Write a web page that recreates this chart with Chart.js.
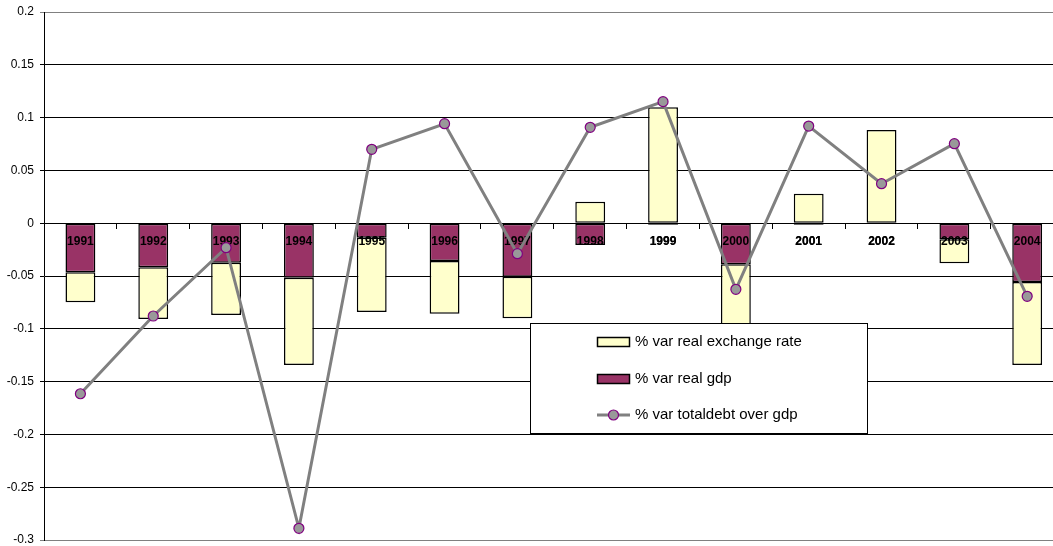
<!DOCTYPE html>
<html><head><meta charset="utf-8">
<script src="https://cdn.jsdelivr.net/npm/chart.js@4.4.1/dist/chart.umd.min.js"></script>
<style>html,body{margin:0;padding:0;background:#fff}#wrap{width:1053px;height:546px;position:relative}</style>
</head><body><div id="wrap"><canvas id="c"></canvas></div>
<script>
const years = ['1991','1992','1993','1994','1995','1996','1997','1998','1999','2000','2001','2002','2003','2004'];
const realExchangeRate = [-0.0284,-0.0489,-0.0495,-0.0827,-0.0704,-0.0499,-0.0394,0.0204,0.1098,-0.071,0.0279,0.0882,-0.0228,-0.0786];
const realGdp = [-0.0465,-0.0418,-0.0374,-0.0516,-0.0137,-0.0358,-0.0507,-0.0206,-0.0015,-0.0389,-0.0015,-0.0005,-0.0152,-0.0557];
const totalDebtOverGdp = [-0.1615,-0.0879,-0.0232,-0.2889,0.070,0.0942,-0.0289,0.0908,0.1151,-0.0626,0.092,0.0374,0.0753,-0.0692];
const yMin = -0.3, yMax = 0.2, yStep = 0.05;

Chart.defaults.font.family = "'Liberation Sans', Arial, sans-serif";
Chart.defaults.color = '#000';

// The original plot area runs a little past the right edge of the picture.
const extendPlotRight = {
  id: 'extendPlotRight',
  afterLayout(chart) {
    const x = chart.scales.x;
    x.right += 10.6;
    x.width += 10.6;
    x.configure();
  }
};

const labelsAboveBars = {
  id: 'labelsAboveBars',
  beforeDatasetDraw(chart, args) {
    if (args.meta.type === 'line' && typeof chart.scales.x.drawLabels === 'function') {
      chart.scales.x.drawLabels(chart.chartArea);
    }
  }
};

const boxLegend = {
  id: 'boxLegend',
  afterDraw(chart) {
    const ctx = chart.ctx;
    const ds = chart.data.datasets;
    ctx.save();
    ctx.fillStyle = '#fff';
    ctx.strokeStyle = '#000';
    ctx.lineWidth = 1;
    ctx.fillRect(530.5, 323.5, 337, 110);
    ctx.strokeRect(530.5, 323.5, 337, 110);
    const order = [2, 1, 0];
    const rows = [342, 379, 415];
    ctx.font = "15px 'Liberation Sans', Arial, sans-serif";
    ctx.textBaseline = 'middle';
    order.forEach((di, i) => {
      const d = ds[di];
      const y = rows[i];
      if (d.type === 'line') {
        ctx.strokeStyle = d.borderColor;
        ctx.lineWidth = d.borderWidth;
        ctx.beginPath(); ctx.moveTo(597, y); ctx.lineTo(630, y); ctx.stroke();
        ctx.beginPath(); ctx.arc(613.5, y, d.pointRadius, 0, Math.PI * 2);
        ctx.fillStyle = d.pointBackgroundColor; ctx.fill();
        ctx.lineWidth = d.pointBorderWidth; ctx.strokeStyle = d.pointBorderColor; ctx.stroke();
      } else {
        ctx.fillStyle = d.backgroundColor;
        ctx.fillRect(597.5, y - 4.5, 32, 9);
        ctx.lineWidth = 1.5; ctx.strokeStyle = '#000';
        ctx.strokeRect(597.5, y - 4.5, 32, 9);
      }
      ctx.fillStyle = '#000';
      ctx.fillText(d.label, 635, y);
    });
    ctx.restore();
  }
};

new Chart(document.getElementById('c'), {
  data: {
    labels: years,
    datasets: [
      { type: 'line', label: '% var totaldebt over gdp', data: totalDebtOverGdp,
        borderColor: '#808080', borderWidth: 3, tension: 0,
        pointRadius: 5, pointBorderWidth: 1.2, pointBackgroundColor: '#999999', pointBorderColor: '#800080',
        order: 0, stack: 'debt', clip: false },
      { type: 'bar', label: '% var real gdp', data: realGdp,
        backgroundColor: '#993366', borderColor: '#000', borderWidth: 1.5, borderSkipped: false,
        order: 1, stack: 's' },
      { type: 'bar', label: '% var real exchange rate', data: realExchangeRate,
        backgroundColor: '#FFFFCC', borderColor: '#000', borderWidth: 1.5, borderSkipped: false,
        order: 2, stack: 's' }
    ]
  },
  options: {
    responsive: true, maintainAspectRatio: false, animation: false,
    barPercentage: 0.41, categoryPercentage: 1,
    layout: { autoPadding: false, padding: { left: 0, top: 12, right: 0, bottom: 6 } },
    plugins: { legend: { display: false }, tooltip: { enabled: false } },
    scales: {
      x: {
        type: 'category', offset: true, stacked: true, position: { y: 0 },
        grid: { offset: true, drawOnChartArea: false, drawTicks: true, tickLength: 5, color: '#000' },
        border: { color: '#000', width: 1 },
        ticks: { font: { size: 12, weight: 'bold' }, padding: 6, maxRotation: 0, autoSkip: false, color: '#000' },
        afterFit(s) { s.height = 0; s.paddingLeft = 0; s.paddingRight = 0; }
      },
      y: {
        min: yMin, max: yMax, stacked: true,
        ticks: { stepSize: yStep, font: { size: 12 }, padding: 6, color: '#000',
          callback: v => String(Math.round(v * 100) / 100) },
        grid: { tickLength: 4, lineWidth: 1,
          color: c => (Math.abs(c.tick.value - yMax) < 1e-9 || Math.abs(c.tick.value - yMin) < 1e-9) ? '#808080' : '#000' },
        border: { color: '#000', width: 1 },
        afterFit(s) { s.width = 44; s.paddingTop = 0; s.paddingBottom = 0; }
      }
    }
  },
  plugins: [extendPlotRight, labelsAboveBars, boxLegend]
});
</script>
</body></html>
